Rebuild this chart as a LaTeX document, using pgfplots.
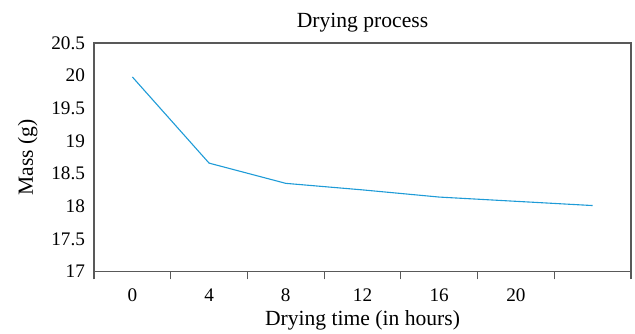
\documentclass[border=0pt]{standalone}
\usepackage{pgfplots}
\pgfplotsset{compat=1.18}
\usepackage{fontspec}
\setmainfont{Liberation Serif}
\definecolor{lineblue}{RGB}{30,155,215}
\definecolor{axgray}{RGB}{89,89,89}
\begin{document}
\begin{tikzpicture}
\begin{axis}[
  name=ax,
  scale only axis,
  width=268.5pt, height=114.25pt,
  xmin=-2, xmax=26,
  ymin=17, ymax=20.5,
  ytick={17,17.5,18,18.5,19,19.5,20,20.5},
  yticklabels={17,17.5,18,18.5,19,19.5,20,20.5},
  xtick={0,4,8,12,16,20},
  xticklabels={0,4,8,12,16,20},
  xtick pos=bottom,
  extra x ticks={-2,2,6,10,14,18,22,26},
  extra x tick labels={},
  extra x tick style={major tick length=4pt, tick style={axgray, line width=0.6pt}, tick align=outside, xtick pos=bottom},
  major tick length=0pt,
  ytick style={draw=none},
  axis line style={axgray, line width=0.6pt},
  x axis line style={line width=1.1pt},
  font=\fontsize{10.8}{13}\selectfont,
  ticklabel style={font=\fontsize{9.6}{11}\selectfont},
  /pgf/number format/assume math mode=true,
  yticklabel style={xshift=-1pt},
  xticklabel style={yshift=-5pt},
  title={Drying process},
  title style={yshift=-4pt},
  xlabel={Drying time (in hours)},
  ylabel={Mass (g)},
  xlabel style={yshift=6.5pt},
  ylabel style={yshift=0pt},
  clip=false,
]
\addplot[lineblue, line width=0.55pt, mark=none] coordinates {
(0,19.98) (4,18.66) (8,18.35) (12,18.25) (16,18.14) (20,18.075) (24,18.01)
};
\end{axis}
\pgfresetboundingbox
\path[use as bounding box] ([xshift=-47pt,yshift=-31.25pt]ax.south west) rectangle ([xshift=2pt,yshift=21.5pt]ax.north east);
\end{tikzpicture}
\end{document}
